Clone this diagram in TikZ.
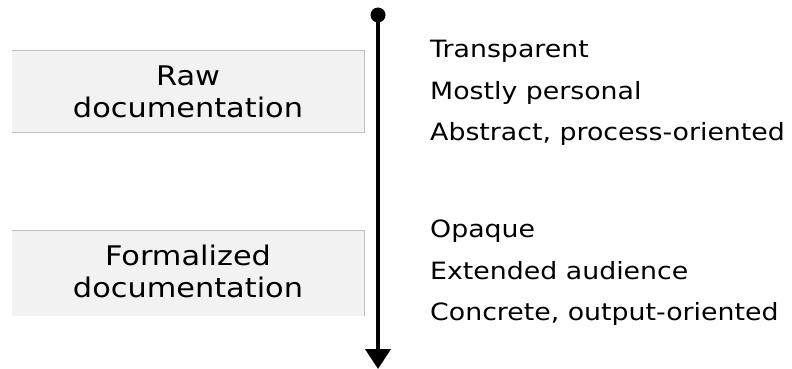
\documentclass[tikz,border=0pt]{standalone}
\usepackage{fontspec}
\setmainfont[FakeStretch=1.125]{DejaVu Sans}
\usetikzlibrary{arrows.meta}
\definecolor{boxfill}{HTML}{F2F2F2}
\definecolor{boxline}{HTML}{BFBFBF}
\tikzset{
  x=1pt,y=-1pt,
  boxtext/.style={font=\fontsize{27}{32}\selectfont, anchor=base, inner sep=0pt, text=black},
  sidetext/.style={font=\fontsize{23.8}{41}\selectfont, anchor=base west, inner sep=0pt, text=black},
  boxfillst/.style={fill=boxfill},
  boxedge/.style={draw=boxline, line width=1pt},
  axis/.style={line width=4pt, -{Triangle[length=20pt,width=25pt]}}
}
\begin{document}
\begin{tikzpicture}
\useasboundingbox (0,0) rectangle (792,369);
% boxes
\fill[boxfillst] (12,51) rectangle (364,132);
\draw[boxedge] (12,51) -- (364,51) -- (364,132) -- (12,132);
\fill[boxfillst] (12,230) rectangle (364,316);
\draw[boxedge] (12,230) -- (364,230) -- (364,316);
\node[boxtext] (raw1) at (188,85) {Raw};
\node[boxtext] (raw2) at (188,117.3) {documentation};
\node[boxtext] (formal1) at (188,265) {Formalized};
\node[boxtext] (formal2) at (188,297.3) {documentation};
% axis
\coordinate (top) at (378,15);
\coordinate (bot) at (378,369);
\fill (top) circle (7.5pt);
\draw[axis] (top) -- (bot);
% side texts
\node[sidetext] (a1) at (430,57.3) {Transparent};
\node[sidetext] (a2) at (430,99) {Mostly personal};
\node[sidetext] (a3) at (430,140.7) {Abstract, process-oriented};
\node[sidetext] (b1) at (430,237.3) {Opaque};
\node[sidetext] (b2) at (430,279) {Extended audience};
\node[sidetext] (b3) at (430,320.7) {Concrete, output-oriented};
\end{tikzpicture}
\end{document}
